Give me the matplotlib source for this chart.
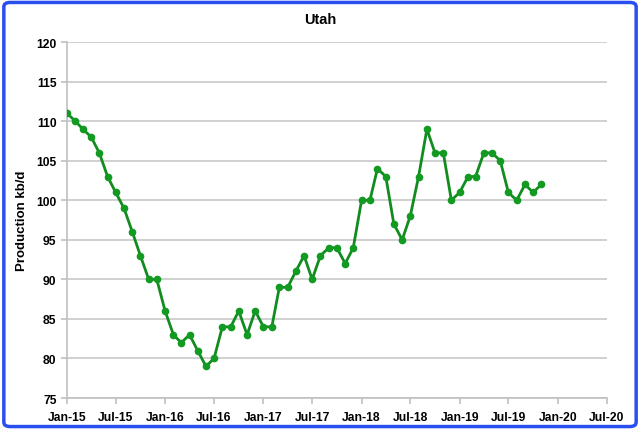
import matplotlib
matplotlib.use("Agg")
import matplotlib.pyplot as plt
import matplotlib.dates as mdates
from matplotlib.patches import FancyBboxPatch
import numpy as np
import pandas as pd

# monthly Utah production, kb/d, Jan-15 .. Nov-19
start_month = "2015-01-01"
production = [
    111, 110, 109, 108, 106, 103, 101, 99, 96, 93, 90, 90,
    86, 83, 82, 83, 81, 79, 80, 84, 84, 86, 83, 86,
    84, 84, 89, 89, 91, 93, 90, 93, 94, 94, 92, 94,
    100, 100, 104, 103, 97, 95, 98, 103, 109, 106, 106, 100,
    101, 103, 103, 106, 106, 105, 101, 100, 102, 101, 102,
]
months = pd.date_range(start_month, periods=len(production), freq="MS")

tick_dates = pd.date_range("2015-01-01", "2020-07-01", freq="6MS")
y_ticks = np.arange(75, 121, 5)

plt.rcParams['font.family'] = ['Liberation Sans', 'DejaVu Sans']

fig = plt.figure(figsize=(6.4, 4.31), dpi=100)
ax = fig.add_axes([0.1047, 0.0742, 0.8433, 0.8258])

ax.plot(months, production, color="#128c1f", lw=2, marker="o", ms=4.5,
        markerfacecolor="#129a22", markeredgecolor="#129a22", zorder=3)

ax.set_xlim(tick_dates[0], tick_dates[-1])
ax.set_ylim(75, 120)
ax.set_xticks(tick_dates)
ax.xaxis.set_major_formatter(mdates.DateFormatter("%b-%y"))
ax.set_yticks(y_ticks)

ax.grid(axis="y", color="#c8c8c8", lw=1.2)
ax.set_axisbelow(True)
for s in ["top", "right"]:
    ax.spines[s].set_visible(False)
for s in ["left", "bottom"]:
    ax.spines[s].set_color("#c0c0c0")
    ax.spines[s].set_linewidth(1.2)
ax.tick_params(axis="both", colors="#c0c0c0", length=4, width=1.2,
               labelcolor="black", labelsize=8.7)
ax.tick_params(axis="x", pad=5)
for lab in ax.get_xticklabels() + ax.get_yticklabels():
    lab.set_fontweight("bold")

ax.set_ylabel("Production kb/d", fontsize=9.5, fontweight="bold", labelpad=6)
fig.text(0.5, 0.953, "Utah", ha="center", va="center", fontsize=10.5, fontweight="bold")

border = FancyBboxPatch((0.006, 0.008), 0.988, 0.984, transform=fig.transFigure,
                        boxstyle="round,pad=0,rounding_size=0.01",
                        fill=False, ec="#2a4ff0", lw=2.5)
fig.patches.append(border)

fig.savefig("out.png", dpi=100)
